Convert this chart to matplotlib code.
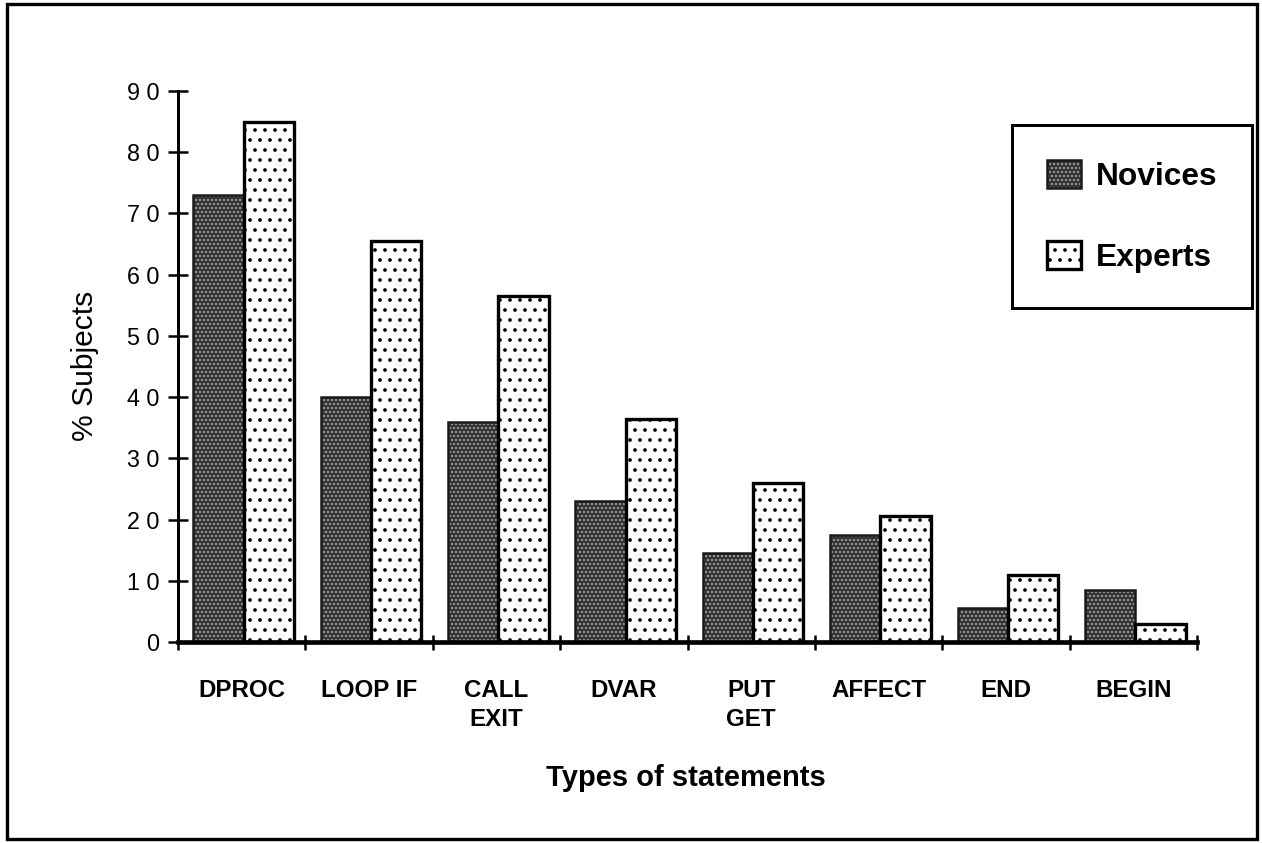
# novices vs experts: % subjects by type of statement

import matplotlib.pyplot as plt
import numpy as np
from matplotlib.legend_handler import HandlerTuple
from matplotlib.patches import Rectangle

categories = ["DPROC", "LOOP IF", "CALL\nEXIT", "DVAR", "PUT\nGET", "AFFECT", "END", "BEGIN"]
novices = [73, 40, 36, 23, 14.5, 17.5, 5.5, 8.5]
experts = [85, 65.5, 56.5, 36.5, 26, 20.5, 11, 3]
yticks = list(range(0, 91, 10))
ytick_labels = [" ".join(str(t)) for t in yticks]  # old printout spaces the digits

plt.rcParams["font.family"] = ["Liberation Sans", "DejaVu Sans"]
plt.rcParams["hatch.linewidth"] = 1.0

W, H, DPI = 1262, 843, 120
fig = plt.figure(figsize=(W / DPI, H / DPI), dpi=DPI)
ax = fig.add_axes([178 / W, 1 - 642 / H, 1019 / W, 551 / H])

x = np.arange(len(categories))
w = 0.395
off = 0.12

# fill + hatch first, outline on top (hatch takes the edge colour)
nov_fill = ax.bar(x + off, novices, w, align="edge", color="#303030",
	edgecolor="#a0a0a0", hatch=".....", linewidth=0)
nov_edge = ax.bar(x + off, novices, w, align="edge", fill=False,
	edgecolor="#1a1a1a", linewidth=1.5)
exp_fill = ax.bar(x + off + w, experts, w, align="edge", color="white",
	edgecolor="black", hatch="..", linewidth=0)
exp_edge = ax.bar(x + off + w, experts, w, align="edge", fill=False,
	edgecolor="black", linewidth=2)

ax.set_xlim(0, len(categories))
ax.set_ylim(0, 90)
for s in ["top", "right"]:
	ax.spines[s].set_visible(False)
ax.spines["left"].set_linewidth(1.8)
ax.spines["bottom"].set_linewidth(2.8)

# group boundaries get the tick marks, names sit at the centres
ax.set_xticks(np.arange(len(categories) + 1))
ax.set_xticklabels([])
ax.tick_params(axis="x", which="major", direction="inout", length=9, width=1.5)
ax.set_xticks(x + 0.5, categories, minor=True)
ax.tick_params(axis="x", which="minor", length=0, pad=22)
for lab in ax.get_xticklabels(minor=True):
	lab.set_fontsize(14.5)
	lab.set_fontweight("bold")
	lab.set_linespacing(1.35)

ax.set_yticks(yticks, ytick_labels)
ax.tick_params(axis="y", direction="inout", length=12, width=1.5, pad=5,
	labelsize=14)

fig.text(85 / W, 1 - 366 / H, "% Subjects", rotation=90, ha="center",
	va="center", fontsize=18)
fig.text(686 / W, 1 - 778 / H, "Types of statements", ha="center",
	va="center", fontsize=17.5, fontweight="bold")

leg = ax.legend(
	[(nov_fill[0], nov_edge[0]), (exp_fill[0], exp_edge[0])],
	["Novices", "Experts"],
	handler_map={tuple: HandlerTuple(ndivide=1)},
	loc="upper right", bbox_to_anchor=(1252 / W, 1 - 125 / H),
	bbox_transform=fig.transFigure, borderaxespad=0,
	prop={"weight": "bold", "size": 19},
	handlelength=1.1, handleheight=1.0, handletextpad=0.45,
	labelspacing=1.55, borderpad=1.1, fancybox=False, framealpha=1,
	edgecolor="black")
leg.get_frame().set_linewidth(1.8)

# outer frame round the whole figure
fig.patches.append(Rectangle((7 / W, 4 / H), 1250 / W, 835 / H,
	transform=fig.transFigure, fill=False, edgecolor="black", linewidth=2))

fig.savefig("out.png", dpi=DPI)
